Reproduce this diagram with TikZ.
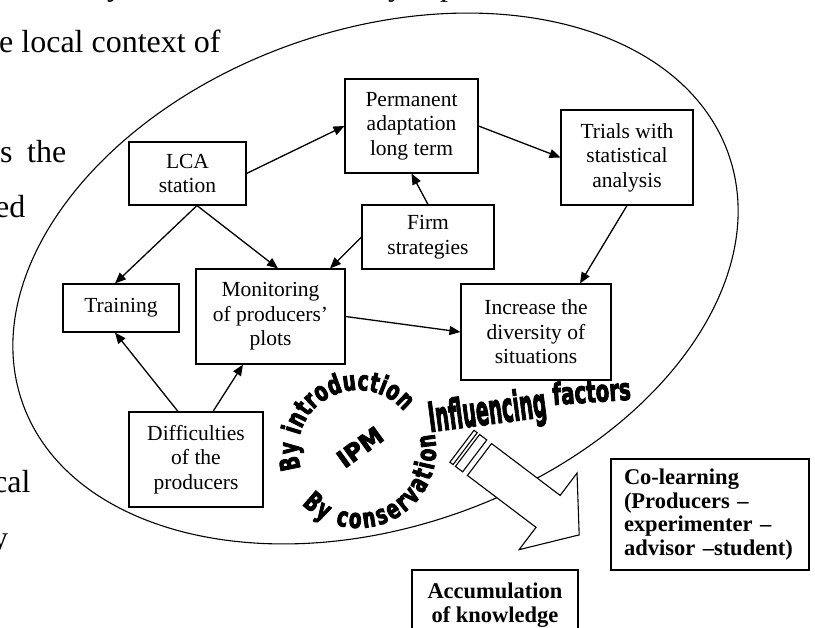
\documentclass[tikz,border=0pt]{standalone}
\usepackage{fontspec}
\usepackage{graphicx}
\setmainfont{Liberation Serif}
\newfontface\wafont[FakeStretch=0.68,FakeBold=3]{DejaVu Sans Bold}
\newfontface\impfont[FakeBold=3.5]{DejaVu Sans Bold}
\usetikzlibrary{arrows.meta,decorations.text,calc}
\begin{document}
\begin{tikzpicture}[x=1pt,y=-1pt,
 box/.style={draw,line width=1.1pt,fill=white,inner sep=0pt,align=center,font=\fontsize{21.5}{24.5}\selectfont},
 bbox/.style={draw,line width=1.1pt,fill=white,inner sep=0pt,font=\fontsize{22.5}{23.5}\selectfont\bfseries},
 conn/.style={line width=1.3pt,-{Triangle[length=11pt,width=9pt]}},
 bgtext/.style={font=\fontsize{32}{32}\selectfont,inner sep=0pt,anchor=base west},
 arrowshape/.style={draw,line width=1.1pt,fill=white,line join=miter},
 ring/.style={line width=1.1pt},
 wordart/.style={anchor=base west,inner sep=0pt},
]
\useasboundingbox (0,0) rectangle (815,628);
\clip (0,0) rectangle (815,628);

% background text fragments
\node[bgtext] (l0a) at (107,-4) {y};
\node[bgtext] (l0b) at (388,-4) {y};
\node[bgtext] (l0c) at (440,-4) {p};
\node[bgtext] (l1) at (-1,53) {e local context of};
\node[bgtext] (l3a) at (0,163) {s};
\node[bgtext] (l3b) at (27,163) {the};
\node[bgtext] (l4) at (-5,218) {ed};
\node[bgtext] (l9) at (-7,493) {cal};
\node[bgtext] (l10) at (-8,548) {y};

% ellipse
\draw[ring, rotate around={19.4:(375.5,278.5)}] (375.5,278.5) ellipse [x radius=374.3, y radius=248.6];

% boxes
\node[box,minimum width=117,minimum height=63] (lca) at (187.5,173.5) {LCA\\station};
\node[box,minimum width=133,minimum height=94] (perm) at (411.5,126) {Permanent\\adaptation\\long term};
\node[box,minimum width=132,minimum height=95] (trials) at (627,157.5) {Trials with\\statistical\\analysis};
\node[box,minimum width=132,minimum height=64] (firm) at (428,237) {Firm\\strategies};
\node[box,minimum width=116,minimum height=48] (training) at (121,308) {Training};
\node[box,minimum width=149,minimum height=95] (monit) at (270.5,316.5) {Monitoring\\of producers’\\plots};
\node[box,minimum width=150,minimum height=96] (incr) at (536,332) {Increase the\\diversity of\\situations};
\node[box,minimum width=134,minimum height=95] (diff) at (196,459.5) {Difficulties\\of the\\producers};
\node[bbox,minimum width=198,minimum height=111,text width=172,inner xsep=13,align=left] (colearn) at (710,514.5) {Co-learning\\(Producers –\\experimenter –\\advisor –student)};
\node[bbox,minimum width=166,minimum height=70,align=center] (accum) at (495,605) {Accumulation\\of knowledge};

% connectors
\coordinate (lcab) at ($(lca.south)+(9.5,0)$);
\draw[conn] (lca.east) -- (perm.west);
\draw[conn] (perm.east) -- (trials.west);
\draw[conn] (firm.north) -- (perm.south);
\draw[conn] (lcab) -- ($(training.north)+(-6,0)$);
\draw[conn] (lcab) -- ($(monit.north)+(7.5,0)$);
\draw[conn] (firm.west) -- ($(monit.north)+(59.5,0)$);
\draw[conn] (monit.east) -- (incr.west);
\draw[conn] (trials.south) -- ($(incr.north)+(44,0)$);
\draw[conn] ($(diff.north)+(-18,0)$) -- ($(training.south)+(-6,0)$);
\draw[conn] ($(diff.north)+(17,0)$) -- ($(monit.south)+(-27.5,0)$);

% striped block arrow
\begin{scope}[shift={(479.5,459.5)},rotate=-37.1]
 \draw[arrowshape] (0,-20) -- (86,-20) -- (86,-48) -- (125,0) -- (86,48) -- (86,20) -- (0,20) -- cycle;
 \draw[arrowshape] (-15,-20) rectangle (-6,20);
 \draw[arrowshape] (-22,-20) rectangle (-18,20);
\end{scope}

% circular word art
\begin{scope}[y=1pt]
 \coordinate (ipmc) at (358,-450);
 \path[decorate,decoration={text along path,text align=fit to path,
   text={|\wafont\fontsize{27}{27}\selectfont|By introduction}}]
   ($(ipmc)+(198:60)$) arc[start angle=198,end angle=40,radius=60];
 \path[decorate,decoration={text along path,text align=fit to path,
   text={|\wafont\fontsize{27}{27}\selectfont|By conservation}}]
   ($(ipmc)+(224:78)$) arc[start angle=224,end angle=372,radius=78];
\end{scope}
\node[rotate=36,inner sep=0pt,font=\impfont\fontsize{24}{24}\selectfont] (ipm) at (360,447) {IPM};
\node[wordart,rotate=7.5,font={\impfont\fontsize{41}{41}\selectfont}] (infl) at (430,432) {\scalebox{0.46}[1]{Influencing}};
\node[wordart,rotate=4,font={\impfont\fontsize{30}{30}\selectfont}] (fact) at (553,405) {\scalebox{0.66}[1]{factors}};
\end{tikzpicture}
\end{document}
